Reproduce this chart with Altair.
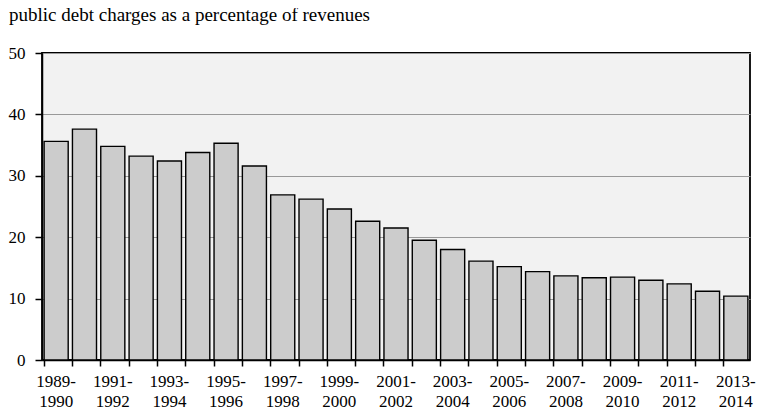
import altair as alt
import pandas as pd

start_years = list(range(1989, 2014))
periods = [f"{y}-{y + 1}" for y in start_years]
values = [35.6, 37.6, 34.8, 33.2, 32.4, 33.8, 35.3, 31.6, 26.9, 26.2, 24.6, 22.6,
          21.5, 19.5, 18.0, 16.1, 15.2, 14.4, 13.7, 13.4, 13.5, 13.0, 12.4, 11.2, 10.4]
y_ticks = [0, 10, 20, 30, 40, 50]

df = pd.DataFrame({"period": periods, "value": values})

FONT = "Liberation Serif"
W, H = 708, 307

chart = alt.Chart(df).mark_bar(
    fill="#cccccc", stroke="#000000", strokeWidth=1.4
).encode(
    x=alt.X(
        "period:N",
        sort=periods,
        title=None,
        scale=alt.Scale(paddingInner=0.15, paddingOuter=0.075),
        axis=alt.Axis(
            labelAngle=0,
            labelExpr="toNumber(slice(datum.value,0,4)) % 2 == 1 ? [slice(datum.value,0,5), slice(datum.value,5)] : ''",
            labelOverlap=False,
            labelFont=FONT,
            labelFontSize=17,
            labelLineHeight=20,
            labelColor="#000000",
            labelPadding=7,
            bandPosition=0,
            tickSize=6,
            tickColor="#000000",
            tickWidth=1.5,
            domainColor="#000000",
            domainWidth=1.5,
            grid=False,
        ),
    ),
    y=alt.Y(
        "value:Q",
        title=None,
        scale=alt.Scale(domain=[0, 50], nice=False),
        axis=alt.Axis(
            values=y_ticks,
            labelFont=FONT,
            labelFontSize=17,
            labelColor="#000000",
            labelPadding=10,
            tickSize=7,
            tickColor="#000000",
            tickWidth=1.5,
            domainColor="#000000",
            domainWidth=1.5,
            grid=True,
            gridColor="#999999",
            gridWidth=1,
        ),
    ),
).properties(
    width=W,
    height=H,
    title=alt.Title(
        "public debt charges as a percentage of revenues",
        anchor="start",
        frame="group",
        font=FONT,
        fontSize=19,
        fontWeight="normal",
        color="#000000",
        dx=-33,
        offset=19,
    ),
    autosize=alt.AutoSizeParams(type="none"),
    padding={"left": 34, "top": 45, "right": 6, "bottom": 50},
).configure_view(
    fill="#f2f2f2", stroke="#000000", strokeWidth=1.8
)

chart.save("out.html", embed_options={"renderer": "svg", "actions": False})
